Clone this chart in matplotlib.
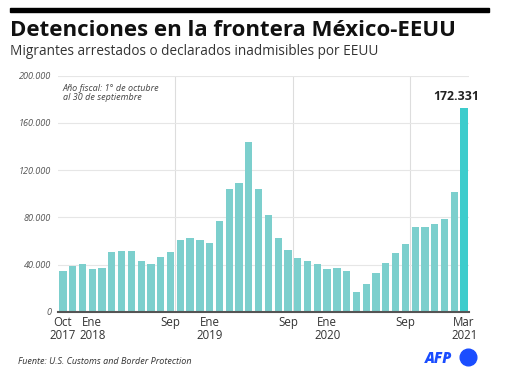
import matplotlib.pyplot as plt
from matplotlib.patches import Rectangle
from matplotlib.lines import Line2D
from matplotlib.ticker import FuncFormatter

# monthly apprehensions / inadmissibles, Oct 2017 - Mar 2021
months = ['Oct 2017', 'Nov 2017', 'Dic 2017', 'Ene 2018', 'Feb 2018', 'Mar 2018',
          'Abr 2018', 'May 2018', 'Jun 2018', 'Jul 2018', 'Ago 2018', 'Sep 2018',
          'Oct 2018', 'Nov 2018', 'Dic 2018', 'Ene 2019', 'Feb 2019', 'Mar 2019',
          'Abr 2019', 'May 2019', 'Jun 2019', 'Jul 2019', 'Ago 2019', 'Sep 2019',
          'Oct 2019', 'Nov 2019', 'Dic 2019', 'Ene 2020', 'Feb 2020', 'Mar 2020',
          'Abr 2020', 'May 2020', 'Jun 2020', 'Jul 2020', 'Ago 2020', 'Sep 2020',
          'Oct 2020', 'Nov 2020', 'Dic 2020', 'Ene 2021', 'Feb 2021', 'Mar 2021']
values = [34898, 39051, 40519, 35905, 36714, 50347,
          51168, 51862, 43180, 40036, 46719, 50568,
          60743, 62469, 60781, 58317, 76545, 103731,
          109415, 144116, 104311, 81777, 62707, 52546,
          45250, 42643, 40565, 36585, 36687, 34460,
          17106, 23237, 33049, 40929, 50014, 57674,
          71929, 72113, 73994, 78414, 101099, 172331]
tick_months = ['Oct 2017', 'Ene 2018', 'Sep 2018', 'Ene 2019', 'Sep 2019',
               'Ene 2020', 'Sep 2020', 'Mar 2021']
tick_labels = ['Oct\n2017', 'Ene\n2018', 'Sep', 'Ene\n2019', 'Sep',
               'Ene\n2020', 'Sep', 'Mar\n2021']
fiscal_starts = ['Oct 2018', 'Oct 2019', 'Oct 2020']

plt.rcParams['font.family'] = ['Open Sans', 'DejaVu Sans']

W, H = 507, 374
fig = plt.figure(figsize=(W / 100, H / 100), dpi=100)

# black rule on top
fig.patches.append(Rectangle((10 / W, 1 - 12 / H), 479 / W, 4 / H,
                             transform=fig.transFigure, color='black'))
fig.text(10 / W, 1 - 36 / H, 'Detenciones en la frontera México-EEUU',
         fontsize=16, fontweight='bold', color='#111111', va='baseline')
fig.text(10 / W, 1 - 55 / H, 'Migrantes arrestados o declarados inadmisibles por EEUU',
         fontsize=9.8, color='#333333', va='baseline')

ax = fig.add_axes([58 / W, 62.3 / H, 411 / W, 236 / H])
x = list(range(len(values)))
colors = ['#7ccfcd'] * (len(values) - 1) + ['#3dcccc']
ax.bar(x, values, width=0.74, color=colors, zorder=2)

ax.set_xlim(-0.5, len(values) - 0.5)
ax.set_ylim(0, 200000)
ax.set_yticks(range(0, 200001, 40000))
ax.yaxis.set_major_formatter(FuncFormatter(lambda v, p: f'{int(v):,}'.replace(',', '.')))
ax.grid(axis='y', color='#e6e6e6', linewidth=0.8, zorder=0)
for m in fiscal_starts:
    ax.axvline(months.index(m) - 0.5, color='#dddddd', linewidth=0.8, zorder=0)

ax.set_xticks([months.index(m) for m in tick_months])
ax.set_xticklabels(tick_labels, fontsize=8.3, color='#333333', linespacing=1.0)
ax.tick_params(axis='x', length=0, pad=3)
ax.tick_params(axis='y', length=0, pad=5, labelsize=6.6, labelcolor='#555555')
for lab in ax.get_yticklabels():
    lab.set_fontstyle('italic')

for s in ['top', 'right', 'left']:
    ax.spines[s].set_visible(False)
ax.spines['bottom'].set_color('#555555')
ax.spines['bottom'].set_linewidth(1.5)

ax.annotate(f'{values[-1]:,}'.replace(',', '.'), (len(values) - 1, values[-1]),
            xytext=(11, 4), textcoords='offset points', ha='right', va='bottom',
            fontsize=8.8, fontweight='bold', color='#222222')
ax.text(0.5 / 42, 0.965, 'Año fiscal: 1° de octubre\nal 30 de septiembre',
        transform=ax.transAxes, fontsize=6.5, style='italic', color='#444444',
        va='top', ha='left', linespacing=1.0)

fig.text(18 / W, 1 - 364 / H, 'Fuente: U.S. Customs and Border Protection',
         fontsize=6.5, style='italic', color='#333333', va='baseline')
fig.text(425 / W, 1 - 363 / H, 'AFP', fontsize=10.5, fontweight='heavy',
         style='italic', color='#1a4dff', va='baseline')
fig.add_artist(Line2D([468 / W], [1 - 357 / H], marker='o', markersize=12,
                      color='#1a4dff', transform=fig.transFigure))

fig.savefig('out.png', dpi=100)
